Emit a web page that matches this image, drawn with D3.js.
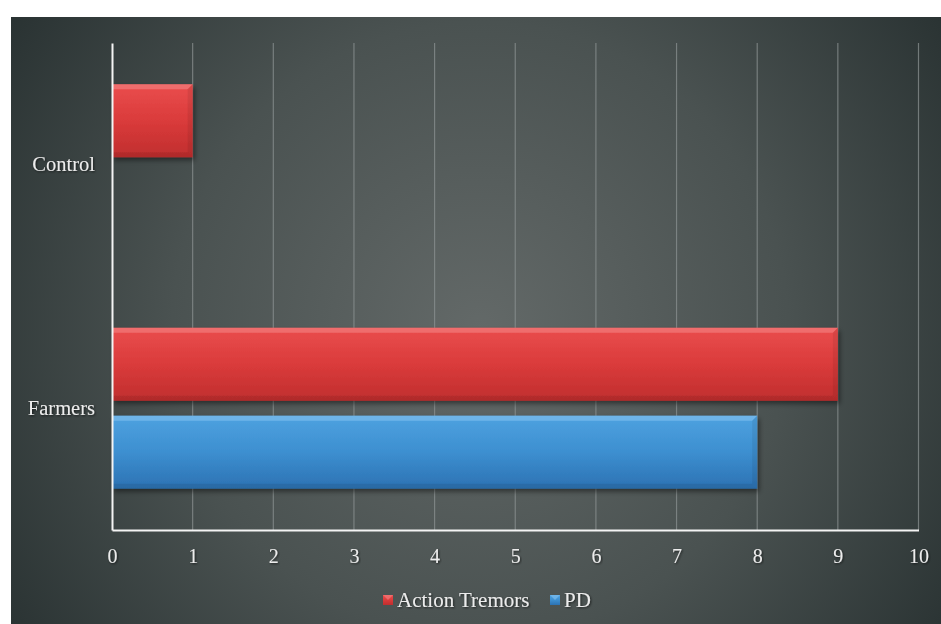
<!DOCTYPE html>
<html>
<head>
<meta charset="utf-8">
<script src="https://cdn.jsdelivr.net/npm/d3@7"></script>
<style>
  body { margin: 0; background: #fff; }
  text { font-family: "Liberation Serif", "Times New Roman", serif; }
</style>
</head>
<body>
<div id="chart"></div>
<script>
// horizontal grouped bars, Excel style

var categories = ["Control", "Farmers"];
var seriesNames = ["Action Tremors", "PD"];
var actionTremors = [1, 9];
var pd = [0, 8];
var xTicks = [0, 1, 2, 3, 4, 5, 6, 7, 8, 9, 10];

var seriesColors = {
  "Action Tremors": { top: "#ea4d4d", mid: "#da3b3b", bot: "#c02e2e", edge: "#f48484" },
  "PD": { top: "#4ea2e0", mid: "#3d8fd0", bot: "#2c72b3", edge: "#86c2ee" }
};

var svgWidth = 941;
var svgHeight = 624;

var margin = { top: 43, right: 22, bottom: 94, left: 112 };

var svg = d3.select("#chart")
  .append("svg")
  .attr("width", svgWidth)
  .attr("height", svgHeight);

var defs = svg.append("defs");

var bg = defs.append("radialGradient")
  .attr("id", "bg")
  .attr("gradientUnits", "userSpaceOnUse")
  .attr("cx", 480).attr("cy", 330).attr("r", 560);
bg.append("stop").attr("offset", "0%").attr("stop-color", "#636968");
bg.append("stop").attr("offset", "55%").attr("stop-color", "#4a5251");
bg.append("stop").attr("offset", "100%").attr("stop-color", "#2a3333");

seriesNames.forEach(function(s, i) {
  var c = seriesColors[s];
  var g = defs.append("linearGradient")
    .attr("id", "grad" + i)
    .attr("x1", 0).attr("y1", 0).attr("x2", 0).attr("y2", 1);
  g.append("stop").attr("offset", "0%").attr("stop-color", c.top);
  g.append("stop").attr("offset", "50%").attr("stop-color", c.mid);
  g.append("stop").attr("offset", "100%").attr("stop-color", c.bot);
});

var shadow = defs.append("filter").attr("id", "shadow")
  .attr("x", "-5%").attr("y", "-10%").attr("width", "115%").attr("height", "130%");
shadow.append("feDropShadow")
  .attr("dx", 2).attr("dy", 3).attr("stdDeviation", 2.5)
  .attr("flood-color", "#000").attr("flood-opacity", 0.45);

var txtShadow = defs.append("filter").attr("id", "tshadow");
txtShadow.append("feDropShadow")
  .attr("dx", 1).attr("dy", 1).attr("stdDeviation", 0.8)
  .attr("flood-color", "#000").attr("flood-opacity", 0.6);

svg.append("rect")
  .attr("x", 11).attr("y", 17)
  .attr("width", svgWidth - 11).attr("height", svgHeight - 17)
  .attr("fill", "url(#bg)");

var width = svgWidth - margin.left - margin.right;
var height = svgHeight - margin.top - margin.bottom;

var chartGroup = svg.append("g")
  .attr("transform", `translate(${margin.left}, ${margin.top})`);

var xScale = d3.scaleLinear()
  .domain([0, 10])
  .range([0, width - 0.5]);

var yScale = d3.scaleBand()
  .domain(categories)
  .range([0, height])
  .padding(0);

var yInner = d3.scaleBand()
  .domain(seriesNames)
  .range([0, yScale.bandwidth()])
  .paddingInner(0.17)
  .paddingOuter(0.47);

// gridlines
chartGroup.append("g")
  .selectAll("line")
  .data(xTicks.filter(function(d) { return d > 0; }))
  .enter()
  .append("line")
  .attr("x1", function(d) { return xScale(d); })
  .attr("x2", function(d) { return xScale(d); })
  .attr("y1", 0)
  .attr("y2", height)
  .attr("stroke", "#8a9090")
  .attr("stroke-opacity", 0.75)
  .attr("stroke-width", 1.2);

// bars
var rows = [];
categories.forEach(function(c, i) {
  rows.push({ cat: c, series: "Action Tremors", idx: 0, value: actionTremors[i] });
  rows.push({ cat: c, series: "PD", idx: 1, value: pd[i] });
});
rows = rows.filter(function(d) { return d.value > 0; });

var bars = chartGroup.append("g")
  .selectAll("g")
  .data(rows)
  .enter()
  .append("g")
  .attr("transform", function(d) {
    return `translate(0, ${yScale(d.cat) + yInner(d.series)})`;
  });

bars.append("rect")
  .attr("x", 0)
  .attr("y", 0)
  .attr("width", function(d) { return xScale(d.value); })
  .attr("height", yInner.bandwidth())
  .attr("fill", function(d) { return "url(#grad" + d.idx + ")"; })
  .attr("filter", "url(#shadow)");

// bevel: top highlight strip, right-edge and bottom shade
var bev = 5;
bars.append("path")
  .attr("d", function(d) {
    var w = xScale(d.value);
    return `M0,0 L${w},0 L${w - bev},${bev} L0,${bev} Z`;
  })
  .attr("fill", function(d) { return seriesColors[d.series].edge; })
  .attr("opacity", 0.6);

bars.append("path")
  .attr("d", function(d) {
    var w = xScale(d.value);
    var h = yInner.bandwidth();
    return `M${w},0 L${w},${h} L${w - bev},${h - bev} L${w - bev},${bev} Z`;
  })
  .attr("fill", "#000")
  .attr("opacity", 0.07);

bars.append("path")
  .attr("d", function(d) {
    var w = xScale(d.value);
    var h = yInner.bandwidth();
    return `M0,${h} L${w},${h} L${w - bev},${h - bev} L0,${h - bev} Z`;
  })
  .attr("fill", "#000")
  .attr("opacity", 0.08);

// axes
var bottomAxis = d3.axisBottom(xScale).tickValues(xTicks).tickSize(0).tickPadding(19);
var leftAxis = d3.axisLeft(yScale).tickSize(0).tickPadding(17);

var xAxisG = chartGroup.append("g")
  .attr("transform", `translate(0, ${height})`)
  .call(bottomAxis);
xAxisG.select(".domain").attr("stroke", "#f4f4f4").attr("stroke-width", 2);
xAxisG.selectAll("text")
  .attr("fill", "#ececec")
  .attr("font-size", "20px")
  .attr("font-family", "Liberation Serif")
  .attr("filter", "url(#tshadow)");

var yAxisG = chartGroup.append("g")
  .call(leftAxis);
yAxisG.select(".domain").attr("stroke", "#f4f4f4").attr("stroke-width", 2);
yAxisG.selectAll("text")
  .attr("fill", "#ececec")
  .attr("font-size", "20.5px")
  .attr("font-family", "Liberation Serif")
  .attr("filter", "url(#tshadow)");

// legend
var legend = svg.append("g")
  .attr("transform", "translate(383, 600)");

var legendX = [0, 167];
seriesNames.forEach(function(s, i) {
  var item = legend.append("g").attr("transform", `translate(${legendX[i]}, 0)`);
  item.append("rect")
    .attr("x", 0).attr("y", -5)
    .attr("width", 10).attr("height", 10)
    .attr("fill", "url(#grad" + i + ")");
  item.append("path")
    .attr("d", "M0,-5 L10,-5 L5,0 Z")
    .attr("fill", seriesColors[s].edge)
    .attr("opacity", 0.6);
  item.append("text")
    .attr("x", 14)
    .attr("y", 0)
    .attr("dy", "0.35em")
    .attr("fill", "#ececec")
    .attr("font-size", "21px")
    .attr("filter", "url(#tshadow)")
    .text(s);
});
</script>
</body>
</html>
